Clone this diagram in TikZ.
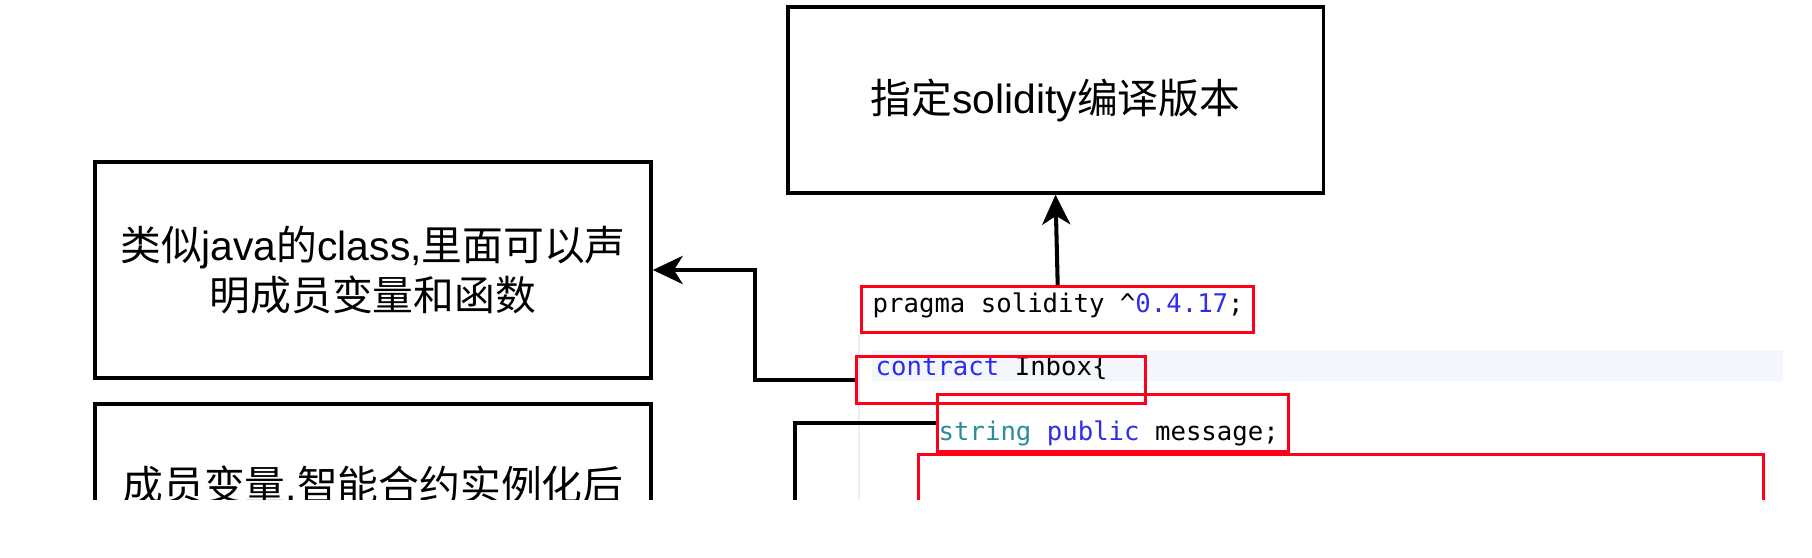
\documentclass[tikz,border=0pt]{standalone}
\usepackage{fontspec}
\setmainfont{Liberation Sans}
\newfontfamily\zhfont{Noto Sans CJK SC}
\newfontfamily\codefont{DejaVu Sans Mono}
\usetikzlibrary{arrows.meta}
\newcommand{\zh}[1]{{\zhfont #1}}
\definecolor{kwblue}{RGB}{45,45,235}
\definecolor{typeteal}{RGB}{43,140,155}
\definecolor{lineband}{RGB}{243,246,253}
\definecolor{gutter}{RGB}{234,237,250}
\definecolor{markred}{RGB}{255,0,24}

\begin{document}
\begin{tikzpicture}
    [x=0.01cm, y=-0.01cm,
    notebox/.style={draw=black, line width=0.95pt, inner sep=0pt, align=center,
        minimum width=5.56cm, minimum height=2.16cm, font=\fontsize{11.6}{14.2}\selectfont},
    redbox/.style={draw=markred, line width=0.9pt, inner sep=0pt, anchor=north west},
    codeline/.style={anchor=west, inner sep=0pt, font=\codefont\fontsize{7.3}{9}\selectfont},
    conn/.style={line width=1.15pt, -{Stealth[length=8.5pt, width=8pt, inset=2.5pt]}}]
    \useasboundingbox (0,0) rectangle (1812,558);
    \begin{scope}
        \clip (0,0) rectangle (1812,500);
        %% editor background
        \fill[lineband] (872,350) rectangle (1783,381);
        \draw[gutter, line width=0.6pt] (859,335) -- (859,500);

        %% notes
        \node[notebox, minimum width=5.35cm, minimum height=1.86cm] (verbox) at (1055.5,100)
            {\zh{指定}solidity\zh{编译版本}};
        \node[notebox] (classbox) at (373,270)
            {\zh{类似}java\zh{的}class,\zh{里面可以声}\\\zh{明成员变量和函数}};
        \node[notebox] (membox) at (373,512) {};
        \node[inner sep=0pt, font=\fontsize{11.6}{14.2}\selectfont] (memtext) at (373,486)
            {\zh{成员变量}{,}\zh{智能合约实例化后}};

        %% code
        \node[codeline] (pragmaline) at (872,305)
            {pragma solidity \textasciicircum\textcolor{kwblue}{0.4.17};};
        \node[codeline] (contractline) at (875,368)
            {\textcolor{kwblue}{contract} Inbox\{};
        \node[codeline] (stringline) at (938,433)
            {\textcolor{typeteal}{string} \textcolor{kwblue}{public} message;};

        %% marks
        \node[redbox, minimum width=3.92cm, minimum height=0.46cm] (pragmabox) at (860,285) {};
        \node[redbox, minimum width=2.89cm, minimum height=0.47cm] (contractbox) at (855,355) {};
        \node[redbox, minimum width=3.51cm, minimum height=0.57cm] (stringbox) at (936,393) {};
        \node[redbox, minimum width=8.44cm, minimum height=2.5cm] (bodybox) at (917,453) {};

        %% links
        \coordinate (memend) at (795,560);
        \draw[conn] (pragmabox.north) -- (verbox.south);
        \draw[conn] (contractbox.west) -- ++(-100,0) |- (classbox.east);
        \draw[line width=1.15pt] (stringbox.west) -| (memend);
    \end{scope}
\end{tikzpicture}
\end{document}
